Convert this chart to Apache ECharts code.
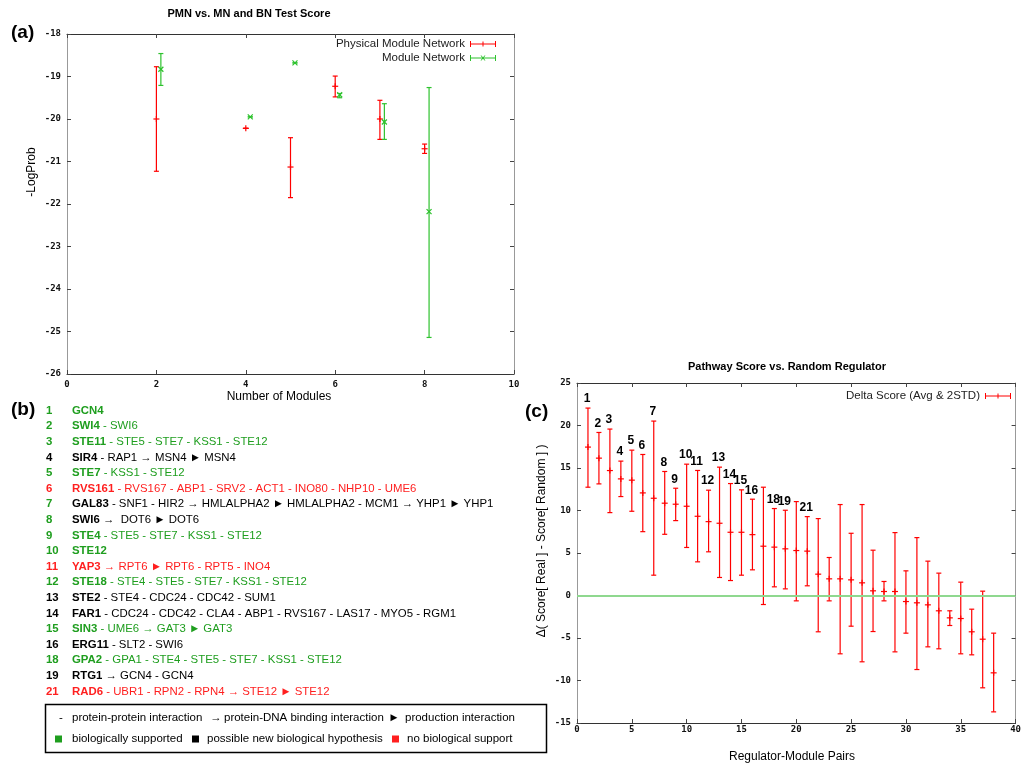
<!DOCTYPE html>
<html><head><meta charset="utf-8">
<script src="https://cdn.jsdelivr.net/npm/echarts@6/dist/echarts.min.js"></script>
<style>html,body{margin:0;padding:0;background:#fff}#c{width:1024px;height:763px}</style>
</head><body><div id="c"></div>
<script>
// ---------- Panel (a): PMN vs. MN ----------
const modulesPMN = [2, 4, 5, 6, 7, 8];
const meanPMN = [-20.0, -20.22, -21.13, -19.23, -20.0, -20.70];
const lowPMN  = [-21.23, -20.22, -21.85, -19.48, -20.48, -20.81];
const highPMN = [-18.77, -20.22, -20.44, -18.99, -19.56, -20.59];
const modulesMN = [2.1, 4.1, 5.1, 6.1, 7.1, 8.1];
const meanMN = [-18.83, -19.95, -18.68, -19.43, -20.07, -22.18];
const lowMN  = [-19.21, -19.95, -18.68, -19.50, -20.48, -25.14];
const highMN = [-18.46, -19.95, -18.68, -19.40, -19.64, -19.26];

// ---------- Panel (c): Pathway score vs random regulator ----------
const pairIndex = [1,2,3,4,5,6,7,8,9,10,11,12,13,14,15,16,17,18,19,20,21,22,23,24,25,26,27,28,29,30,31,32,33,34,35,36,37,38];
const deltaMean = [17.46,16.16,14.70,13.72,13.57,12.07,11.44,10.86,10.74,10.50,9.32,8.69,8.50,7.44,7.44,7.16,5.80,5.69,5.49,5.29,5.22,2.51,1.96,1.96,1.84,1.49,0.55,0.47,0.47,-0.71,-0.86,-1.10,-1.80,-2.63,-2.71,-4.27,-5.14,-9.10];
const deltaHigh = [22.05,19.18,19.58,15.81,17.10,16.59,20.52,14.59,12.62,15.45,14.71,12.39,15.10,13.17,12.43,11.33,12.74,10.23,10.03,11.05,9.28,9.05,4.47,10.70,7.32,10.70,5.33,1.65,7.40,2.90,6.81,4.04,2.63,-1.80,1.57,-1.61,0.51,-4.43];
const deltaLow  = [12.74,13.13,9.75,11.64,9.91,7.51,2.39,7.20,8.81,5.65,3.96,5.14,2.12,1.76,2.39,3.02,-1.06,1.02,0.78,-0.63,1.14,-4.27,-0.63,-6.86,-3.61,-7.80,-4.24,-0.63,-6.63,-4.43,-8.71,-6.04,-6.27,-3.53,-6.86,-6.98,-10.86,-13.69];

// ---------- Panel (b): pathways ----------
const pathwayIds = ['1','2','3','4','5','6','7','8','9','10','11','12','13','14','15','16','18','19','21'];
const pathwayGenes = [
  'GCN4',
  'SWI4 - SWI6',
  'STE11 - STE5 - STE7 - KSS1 - STE12',
  'SIR4 - RAP1 \u2192 MSN4 \u25BA MSN4',
  'STE7 - KSS1 - STE12',
  'RVS161 - RVS167 - ABP1 - SRV2 - ACT1 - INO80 - NHP10 - UME6',
  'GAL83 - SNF1 - HIR2 \u2192 HMLALPHA2 \u25BA HMLALPHA2 - MCM1 \u2192 YHP1 \u25BA YHP1',
  'SWI6 \u2192  DOT6 \u25BA DOT6',
  'STE4 - STE5 - STE7 - KSS1 - STE12',
  'STE12',
  'YAP3 \u2192 RPT6 \u25BA RPT6 - RPT5 - INO4',
  'STE18 - STE4 - STE5 - STE7 - KSS1 - STE12',
  'STE2 - STE4 - CDC24 - CDC42 - SUM1',
  'FAR1 - CDC24 - CDC42 - CLA4 - ABP1 - RVS167 - LAS17 - MYO5 - RGM1',
  'SIN3 - UME6 \u2192 GAT3 \u25BA GAT3',
  'ERG11 - SLT2 - SWI6',
  'GPA2 - GPA1 - STE4 - STE5 - STE7 - KSS1 - STE12',
  'RTG1 \u2192 GCN4 - GCN4',
  'RAD6 - UBR1 - RPN2 - RPN4 \u2192 STE12 \u25BA STE12'
];
const pathwayIdClass   = ['g','g','g','k','g','r','g','g','g','g','r','g','k','k','g','k','g','k','r'];
const pathwayTextClass = ['g','g','g','k','g','r','k','k','g','g','r','g','k','k','g','k','g','k','r'];
const interactionSymbols = ['-', '\u2192', '\u25BA'];
const interactionNames = ['protein-protein interaction', 'protein-DNA binding interaction', 'production interaction'];
const supportClasses = ['g', 'k', 'r'];
const supportNames = ['biologically supported', 'possible new biological hypothesis', 'no biological support'];

// ---------- styling ----------
const FONT = '"Liberation Sans", Arial, Helvetica, sans-serif';
const MONO = '"DejaVu Sans Mono", "Liberation Mono", monospace';
const RED = '#ff0000', GREEN = '#2ec22e';
const CLS = { g: '#1f9e1f', k: '#000000', r: '#ff1f1f' };
const LIST_FS = 11.4;

function zip(xs, m, lo, hi) { return xs.map((x, i) => [x, m[i], lo[i], hi[i]]); }

function errorBar(color, marker, capHalf, labelSet) {
  return function (params, api) {
    const x = api.value(0);
    const pm = api.coord([x, api.value(1)]);
    const pl = api.coord([x, api.value(2)]);
    const ph = api.coord([x, api.value(3)]);
    const st = { stroke: color, lineWidth: 1.2, fill: null };
    const ch = [
      { type: 'line', shape: { x1: pl[0], y1: pl[1], x2: ph[0], y2: ph[1] }, style: st },
      { type: 'line', shape: { x1: pl[0] - capHalf, y1: pl[1], x2: pl[0] + capHalf, y2: pl[1] }, style: st },
      { type: 'line', shape: { x1: ph[0] - capHalf, y1: ph[1], x2: ph[0] + capHalf, y2: ph[1] }, style: st }
    ];
    if (marker === 'plus') {
      ch.push({ type: 'line', shape: { x1: pm[0] - 3, y1: pm[1], x2: pm[0] + 3, y2: pm[1] }, style: st });
      ch.push({ type: 'line', shape: { x1: pm[0], y1: pm[1] - 3, x2: pm[0], y2: pm[1] + 3 }, style: st });
    } else {
      ch.push({ type: 'line', shape: { x1: pm[0] - 2.5, y1: pm[1] - 2.5, x2: pm[0] + 2.5, y2: pm[1] + 2.5 }, style: st });
      ch.push({ type: 'line', shape: { x1: pm[0] - 2.5, y1: pm[1] + 2.5, x2: pm[0] + 2.5, y2: pm[1] - 2.5 }, style: st });
    }
    if (labelSet && labelSet.indexOf(String(x)) >= 0) {
      ch.push({ type: 'text', x: ph[0] - 1, y: ph[1] - 3,
        style: { text: String(x), fill: '#000', fontSize: 12, fontWeight: 'bold', fontFamily: FONT,
                 align: 'center', textAlign: 'center', verticalAlign: 'bottom', textVerticalAlign: 'bottom' } });
    }
    return { type: 'group', children: ch };
  };
}

const ICON_PLUS = 'path://M0,3.5 L26,3.5 L26,4.5 L0,4.5 Z M0,1 L1,1 L1,7 L0,7 Z M25,1 L26,1 L26,7 L25,7 Z M12.5,1.5 L13.5,1.5 L13.5,6.5 L12.5,6.5 Z';
const ICON_X = 'path://M0,3.5 L26,3.5 L26,4.5 L0,4.5 Z M0,1 L1,1 L1,7 L0,7 Z M25,1 L26,1 L26,7 L25,7 Z M10.5,1.5 L11.5,1.5 L15.5,6.5 L14.5,6.5 Z M14.5,1.5 L15.5,1.5 L11.5,6.5 L10.5,6.5 Z';

function valueAxis(gridIndex, pos, min, max, interval, showLabel, lineColor, margin) {
  return {
    type: 'value', gridIndex, position: pos, min, max, interval,
    axisLine: { show: true, onZero: false, lineStyle: { color: lineColor, width: 1 } },
    axisTick: { show: true, inside: true, length: 4, lineStyle: { color: '#444' } },
    axisLabel: { show: showLabel, margin: margin == null ? 6 : margin, color: '#111', fontFamily: MONO, fontSize: 9, fontWeight: 'bold' },
    splitLine: { show: false }
  };
}

// ---------- graphics: titles, panel letters, axis names, panel (b) ----------
const graphics = [];
function txt(x, y, text, o) {
  const s = Object.assign({ text, fill: '#000', fontSize: 12, fontFamily: FONT, align: 'left',
    verticalAlign: 'middle', textVerticalAlign: 'middle' }, o || {});
  s.textAlign = s.align;
  return { type: 'text', x, y, style: s };
}
graphics.push(txt(249, 14, 'PMN vs. MN and BN Test Score', { fontSize: 11, fontWeight: 'bold', align: 'center' }));
graphics.push(txt(787, 367, 'Pathway Score vs. Random Regulator', { fontSize: 11, fontWeight: 'bold', align: 'center' }));
graphics.push(txt(11, 33, '(a)', { fontSize: 19, fontWeight: 'bold' }));
graphics.push(txt(11, 410, '(b)', { fontSize: 19, fontWeight: 'bold' }));
graphics.push(txt(525, 412, '(c)', { fontSize: 19, fontWeight: 'bold' }));
graphics.push(txt(279, 397, 'Number of Modules', { align: 'center' }));
graphics.push(txt(792, 757, 'Regulator-Module Pairs', { align: 'center' }));
graphics.push(Object.assign(txt(32, 172, '-LogProb', { align: 'center' }), { rotation: Math.PI / 2 }));
graphics.push(Object.assign(txt(542, 541, '\u0394( Score[ Real ] - Score[ Random ] )', { align: 'center' }), { rotation: Math.PI / 2 }));

pathwayIds.forEach((id, i) => {
  const y = 410.7 + i * 15.6;
  graphics.push(txt(46, y, id, { fontWeight: 'bold', fontSize: LIST_FS, fill: CLS[pathwayIdClass[i]] }));
  const g = pathwayGenes[i];
  const sp = g.indexOf(' ');
  const first = sp < 0 ? g : g.slice(0, sp);
  const rest = sp < 0 ? '' : g.slice(sp);
  const col = CLS[pathwayTextClass[i]];
  graphics.push(txt(72, y, '{b|' + first + '}{n|' + rest + '}', {
    fill: col, fontSize: LIST_FS,
    rich: {
      b: { fontWeight: 'bold', fontSize: LIST_FS, fontFamily: FONT, fill: col },
      n: { fontWeight: 'normal', fontSize: LIST_FS, fontFamily: FONT, fill: col }
    }
  }));
});
// legend box for panel (b)
graphics.push({ type: 'rect', shape: { x: 45.5, y: 704.5, width: 501, height: 48 }, style: { fill: null, stroke: '#000', lineWidth: 1.5 } });
const symX = [61, 216, 394];
const nameX = [72, 224, 405];
interactionSymbols.forEach((s, i) => {
  graphics.push(txt(symX[i], 718, s, { align: 'center', fontSize: 11.5 }));
  graphics.push(txt(nameX[i], 718, interactionNames[i], { fontSize: 11.5 }));
});
const sqX = [55, 192, 392];
const sNameX = [72, 207, 407];
supportClasses.forEach((c, i) => {
  graphics.push({ type: 'rect', shape: { x: sqX[i], y: 735.5, width: 7, height: 7 }, style: { fill: CLS[c] } });
  graphics.push(txt(sNameX[i], 739, supportNames[i], { fontSize: 11.5 }));
});

const chart = echarts.init(document.getElementById('c'), null, { renderer: 'canvas' });
chart.setOption({
  backgroundColor: '#fff',
  animation: false,
  grid: [
    { left: 67, top: 34, width: 447, height: 340 },
    { left: 577, top: 383, width: 444, height: 340 }
  ],
  xAxis: [
    valueAxis(0, 'bottom', 0, 10, 2, true, '#333'),
    valueAxis(0, 'top', 0, 10, 2, false, '#333'),
    valueAxis(1, 'bottom', 0, 40, 5, true, '#333', 2),
    valueAxis(1, 'top', 0, 40, 5, false, '#333')
  ],
  yAxis: [
    valueAxis(0, 'left', -26, -18, 1, true, '#999'),
    valueAxis(0, 'right', -26, -18, 1, false, '#999'),
    valueAxis(1, 'left', -15, 25, 5, true, '#999'),
    valueAxis(1, 'right', -15, 25, 5, false, '#999')
  ],
  legend: [
    { orient: 'vertical', right: 1024 - 496, top: 38, padding: 0, align: 'right', itemWidth: 26, itemHeight: 8, itemGap: 2,
      textStyle: { fontFamily: FONT, fontSize: 11.5, color: '#222' },
      data: [{ name: 'Physical Module Network', icon: ICON_PLUS }, { name: 'Module Network', icon: ICON_X }] },
    { orient: 'vertical', right: 1024 - 1011, top: 390, padding: 0, align: 'right', itemWidth: 26, itemHeight: 8,
      textStyle: { fontFamily: FONT, fontSize: 11.5, color: '#222' },
      data: [{ name: 'Delta Score (Avg & 2STD)', icon: ICON_PLUS }] }
  ],
  graphic: graphics,
  series: [
    { name: 'Physical Module Network', type: 'custom', xAxisIndex: 0, yAxisIndex: 0, itemStyle: { color: RED },
      renderItem: errorBar(RED, 'plus', 2.5), data: zip(modulesPMN, meanPMN, lowPMN, highPMN) },
    { name: 'Module Network', type: 'custom', xAxisIndex: 0, yAxisIndex: 0, itemStyle: { color: GREEN },
      renderItem: errorBar(GREEN, 'x', 2.5), data: zip(modulesMN, meanMN, lowMN, highMN) },
    { name: 'Delta Score (Avg & 2STD)', type: 'custom', xAxisIndex: 2, yAxisIndex: 2, itemStyle: { color: RED },
      renderItem: errorBar(RED, 'plus', 2.5, pathwayIds), data: zip(pairIndex, deltaMean, deltaLow, deltaHigh),
      markLine: { silent: true, symbol: ['none', 'none'], label: { show: false },
        lineStyle: { color: '#8fd88f', width: 2, type: 'solid' }, data: [{ yAxis: 0 }] } }
  ]
});
</script></body></html>
